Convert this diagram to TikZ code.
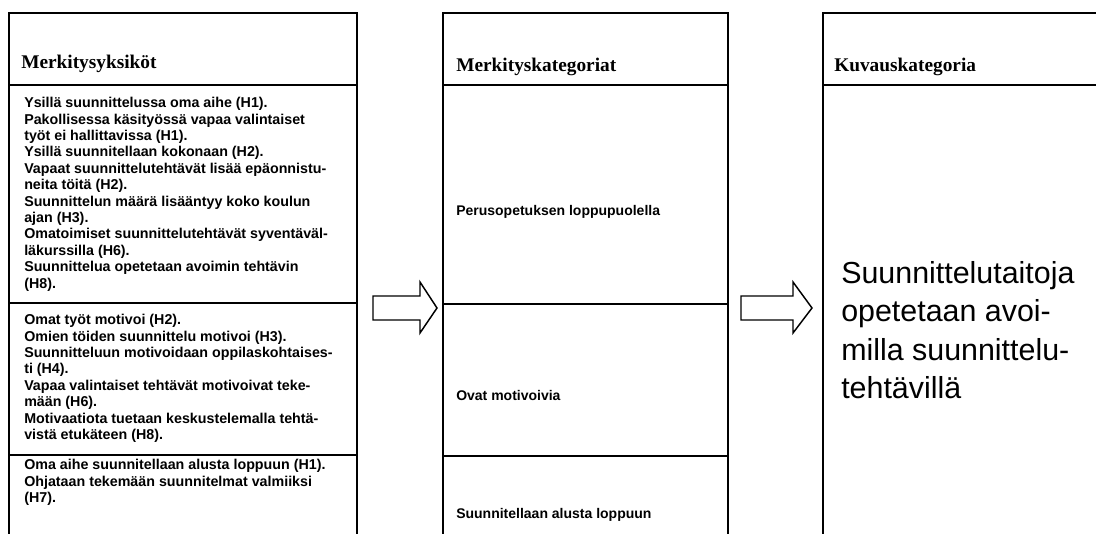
\documentclass[tikz,border=0pt]{standalone}
\usepackage{fontspec}
\setmainfont{Liberation Serif}
\setsansfont{Liberation Sans}
\begin{document}
\begin{tikzpicture}[x=0.75pt,y=-0.75pt,
  frame/.style={line width=1.5pt, line cap=rect},
  colhead/.style={anchor=base west, inner sep=0pt, font=\rmfamily\bfseries\fontsize{14.5}{17}\selectfont},
  unit/.style={anchor=north west, inner sep=0pt, align=left, font=\sffamily\bfseries\fontsize{10.7}{12.3}\selectfont},
  cat/.style={anchor=base west, inner sep=0pt, font=\sffamily\bfseries\fontsize{10.5}{12.6}\selectfont},
  desc/.style={anchor=north west, inner sep=0pt, align=left, font=\sffamily\fontsize{22.8}{28.8}\selectfont},
  blockarrow/.style={draw, line width=1.1pt, fill=white, line join=miter}]
\useasboundingbox (0,0) rectangle (1096,534);
\begin{scope}
\clip (0,0) rectangle (1096,534);
% column of meaning units
\draw[frame] (9,540) -- (9,13) -- (357,13) -- (357,540);
\draw[frame] (9,85) -- (357,85);
\draw[frame] (9,303) -- (357,303);
\draw[frame] (9,455) -- (357,455);
% column of meaning categories
\draw[frame] (443,540) -- (443,13) -- (728,13) -- (728,540);
\draw[frame] (443,85) -- (728,85);
\draw[frame] (443,304) -- (728,304);
\draw[frame] (443,456) -- (728,456);
% column of the description category
\draw[frame] (823,540) -- (823,13) -- (1110,13);
\draw[frame] (823,85) -- (1110,85);
\end{scope}

\node[colhead] (h1) at (21,69) {Merkitysyksiköt};
\node[colhead] (h2) at (456,72) {Merkityskategoriat};
\node[colhead] (h3) at (834,72) {Kuvauskategoria};

\node[unit] (u1) at (24,97) {Ysillä suunnittelussa oma aihe (H1).\\
Pakollisessa käsityössä vapaa valintaiset\\
työt ei hallittavissa (H1).\\
Ysillä suunnitellaan kokonaan (H2).\\
Vapaat suunnittelutehtävät lisää epäonnistu-\\
neita töitä (H2).\\
Suunnittelun määrä lisääntyy koko koulun\\
ajan (H3).\\
Omatoimiset suunnittelutehtävät syventäväl-\\
läkurssilla (H6).\\
Suunnittelua opetetaan avoimin tehtävin\\
(H8).};

\node[unit] (u2) at (24,314) {Omat työt motivoi (H2).\\
Omien töiden suunnittelu motivoi (H3).\\
Suunnitteluun motivoidaan oppilaskohtaises-\\
ti (H4).\\
Vapaa valintaiset tehtävät motivoivat teke-\\
mään (H6).\\
Motivaatiota tuetaan keskustelemalla tehtä-\\
vistä etukäteen (H8).};

\node[unit] (u3) at (24,459) {Oma aihe suunnitellaan alusta loppuun (H1).\\
Ohjataan tekemään suunnitelmat valmiiksi\\
(H7).};

\node[cat] (c1) at (456,216) {Perusopetuksen loppupuolella};
\node[cat] (c2) at (456,401) {Ovat motivoivia};
\node[cat] (c3) at (456,518) {Suunnitellaan alusta loppuun};

\node[desc] (d1) at (841,261) {Suunnittelutaitoja\\
opetetaan avoi-\\
milla suunnittelu-\\
tehtävillä};

% block arrows between the columns
\coordinate (a1) at (373,308);
\coordinate (a2) at (741,308);
\draw[blockarrow] (a1) ++(0,-12) -- ++(47,0) -- ++(0,-14) -- ++(17,26) -- ++(-17,25) -- ++(0,-13) -- ++(-47,0) -- cycle;
\draw[blockarrow] (a2) ++(0,-12) -- ++(52,0) -- ++(0,-14) -- ++(19,26) -- ++(-19,25) -- ++(0,-13) -- ++(-52,0) -- cycle;
\end{tikzpicture}
\end{document}
